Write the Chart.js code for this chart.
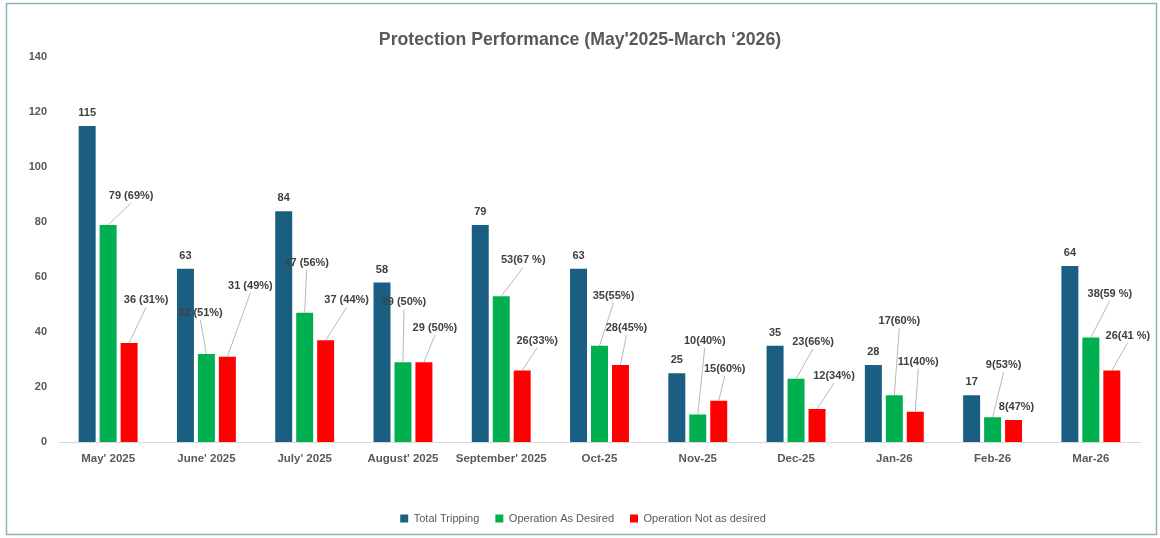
<!DOCTYPE html>
<html>
<head>
<meta charset="utf-8">
<script src="https://cdn.jsdelivr.net/npm/chart.js@4"></script>
<style>
  html, body { margin: 0; padding: 0; background: #fff; }
  #wrap { width: 1160px; height: 538px; }
</style>
</head>
<body>
<div id="wrap"><canvas id="grafico" width="1160" height="538"></canvas></div>
<script>
// categorias e valores
var categorias = ["May' 2025", "June' 2025", "July' 2025", "August' 2025", "September' 2025",
  'Oct-25', 'Nov-25', 'Dec-25', 'Jan-26', 'Feb-26', 'Mar-26'];
var totalTripping = [115, 63, 84, 58, 79, 63, 25, 35, 28, 17, 64];
var operacaoDesejada = [79, 32, 47, 29, 53, 35, 10, 23, 17, 9, 38];
var operacaoNaoDesejada = [36, 31, 37, 29, 26, 28, 15, 12, 11, 8, 26];
var rotulosDesejada = ['79 (69%)', '32 (51%)', '47 (56%)', '29 (50%)', '53(67 %)', '35(55%)',
  '10(40%)', '23(66%)', '17(60%)', '9(53%)', '38(59 %)'];
var rotulosNaoDesejada = ['36 (31%)', '31 (49%)', '37 (44%)', '29 (50%)', '26(33%)', '28(45%)',
  '15(60%)', '12(34%)', '11(40%)', '8(47%)', '26(41 %)'];
var ticksY = [0, 20, 40, 60, 80, 100, 120, 140];

// deslocamentos dos rótulos (em px, relativos ao topo da barra)
var deslocDesejada = [[23, -29], [-6, -41], [2, -50], [1, -60], [22, -36], [14, -50],
  [7, -74], [17, -37], [5, -74], [11, -52], [19, -44]];
var deslocNaoDesejada = [[17, -43], [23, -71], [21, -40], [11, -34], [15, -30], [6, -37],
  [6, -32], [17, -33], [3, -50], [3, -13], [16, -35]];

var corTexto = '#595959';
var corRotulo = '#404040';
var fonte = "'Liberation Sans', Arial, sans-serif";

// desenha a moldura e os rótulos de dados com linhas de chamada
var pluginRotulos = {
  id: 'rotulos',
  afterLayout: function (chart) {
    // centraliza legenda e título como no original
    chart.legend.left += 13;
    chart.legend.right += 13;
    chart.titleBlock.left += 10;
    chart.titleBlock.right += 10;
  },
  beforeDraw: function (chart) {
    var c = chart.ctx;
    c.save();
    c.strokeStyle = '#8fb2ba';
    c.lineWidth = 1.5;
    c.strokeRect(6.5, 3.5, 1150, 531);
    c.restore();
  },
  afterDatasetsDraw: function (chart) {
    var c = chart.ctx;
    c.save();
    c.font = 'bold 11px ' + fonte;
    c.fillStyle = corRotulo;
    c.textAlign = 'center';
    c.textBaseline = 'middle';

    // total: logo acima da barra
    chart.getDatasetMeta(0).data.forEach(function (bar, i) {
      c.fillText(String(totalTripping[i]), bar.x, bar.y - 13);
    });

    var desenhar = function (idx, textos, desloc) {
      chart.getDatasetMeta(idx).data.forEach(function (bar, i) {
        var lx = bar.x + desloc[i][0];
        var ly = bar.y + desloc[i][1];
        if (Math.abs(desloc[i][1]) > 16) {
          c.strokeStyle = '#a6a6a6';
          c.lineWidth = 0.8;
          c.beginPath();
          c.moveTo(lx, ly + 7);
          c.lineTo(bar.x, bar.y);
          c.stroke();
        }
        c.fillText(textos[i], lx, ly);
      });
    };
    desenhar(1, rotulosDesejada, deslocDesejada);
    desenhar(2, rotulosNaoDesejada, deslocNaoDesejada);
    c.restore();
  }
};

var ctx = document.getElementById('grafico').getContext('2d');

var dados = {
  labels: categorias,
  datasets: [{
    label: 'Total Tripping',
    data: totalTripping,
    backgroundColor: '#1a5e82'
  }, {
    label: 'Operation As Desired',
    data: operacaoDesejada,
    backgroundColor: '#00b050'
  }, {
    label: 'Operation Not as desired',
    data: operacaoNaoDesejada,
    backgroundColor: '#ff0000'
  }]
};

var opcoes = {
  responsive: false,
  animation: false,
  layout: { padding: { top: 29, right: 20, left: 0, bottom: 4 } },
  datasets: {
    bar: { categoryPercentage: 0.64, barPercentage: 0.81 }
  },
  plugins: {
    title: {
      display: true,
      text: "Protection Performance (May'2025-March \u20182026)",
      color: corTexto,
      font: { family: fonte, size: 17.7, weight: 'bold' },
      padding: { top: 0, bottom: 7 }
    },
    legend: {
      position: 'bottom',
      labels: {
        color: corTexto,
        font: { family: fonte, size: 11 },
        boxWidth: 8,
        boxHeight: 8,
        padding: 16
      }
    },
    tooltip: { enabled: false }
  },
  scales: {
    x: {
      grid: { display: false },
      border: { color: '#d9d9d9', width: 1 },
      ticks: { color: corTexto, font: { family: fonte, size: 11.5, weight: 'bold' }, padding: 2 },
      afterFit: function (s) { s.height = 55; }
    },
    y: {
      min: 0,
      max: 140,
      grid: { display: false },
      border: { display: false },
      ticks: { color: corTexto, font: { family: fonte, size: 11, weight: 'bold' }, padding: 4, stepSize: 20 },
      afterBuildTicks: function (s) { s.ticks = ticksY.map(function (v) { return { value: v }; }); },
      afterFit: function (s) { s.width = 59; }
    }
  }
};

var meuGrafico = new Chart(ctx, {
  type: 'bar',
  data: dados,
  options: opcoes,
  plugins: [pluginRotulos]
});
</script>
</body>
</html>
